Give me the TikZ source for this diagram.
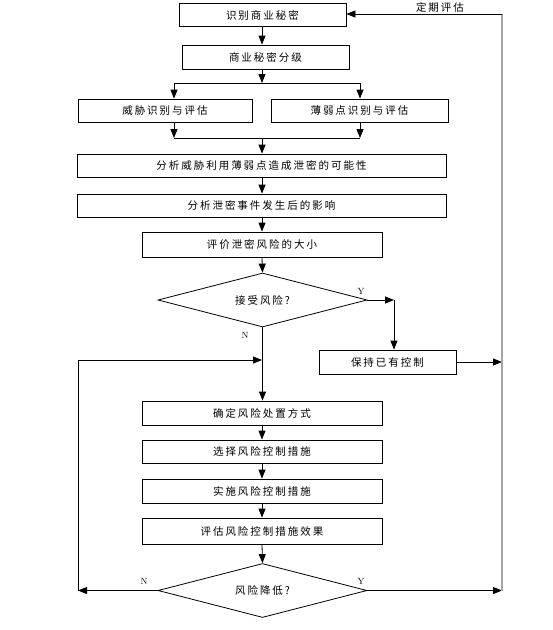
\documentclass[tikz,border=0pt]{standalone}
\usepackage{fontspec}
\newfontfamily\cjkfont[LetterSpace=19]{Noto Sans CJK SC}
\usetikzlibrary{arrows.meta,shapes.geometric}
\definecolor{rline}{RGB}{165,165,165}
\tikzset{
  box/.style={draw, line width=0.8pt, inner sep=0pt, font=\cjkfont\fontsize{10.5}{12}\selectfont},
  dia/.style={draw, line width=0.8pt, shape=diamond, aspect=3.87, inner sep=0pt, minimum width=209pt, minimum height=54pt, font=\cjkfont\fontsize{10.5}{12}\selectfont},
  arr/.style={-{Triangle[length=9pt,width=7pt]}, line width=0.8pt},
  ln/.style={line width=0.8pt},
  yn/.style={inner sep=0pt, font=\fontsize{9}{10}\selectfont},
  lbl/.style={inner sep=0pt, font=\cjkfont\fontsize{10.5}{12}\selectfont}
}
\begin{document}
\begin{tikzpicture}[x=1pt,y=-1pt]
\useasboundingbox (0,0) rectangle (553,630);
% boxes
\node[box, minimum width=167pt, minimum height=23pt] (b1) at (262.5,15) {识别商业秘密};
\node[box, minimum width=167pt, minimum height=24pt] (b2) at (265.5,57) {商业秘密分级};
\node[box, minimum width=174pt, minimum height=23pt] (b3) at (165,110.5) {威胁识别与评估};
\node[box, minimum width=177pt, minimum height=23pt] (b4) at (359.5,110.5) {薄弱点识别与评估};
\node[box, minimum width=369pt, minimum height=23pt] (b5) at (261.5,165.5) {分析威胁利用薄弱点造成泄密的可能性};
\node[box, minimum width=369pt, minimum height=23pt] (b6) at (261.5,205.5) {分析泄密事件发生后的影响};
\node[box, minimum width=240pt, minimum height=25pt] (b7) at (262,244.5) {评价泄密风险的大小};
\node[dia] (d1) at (262.5,300) {接受风险?};
\node[box, minimum width=137pt, minimum height=24pt] (b8) at (387.5,362) {保持已有控制};
\node[box, minimum width=240pt, minimum height=24pt] (b9) at (262,413) {确定风险处置方式};
\node[box, minimum width=240pt, minimum height=23pt] (b10) at (262,451.5) {选择风险控制措施};
\node[box, minimum width=240pt, minimum height=24pt] (b11) at (262,491) {实施风险控制措施};
\node[box, minimum width=240pt, minimum height=26pt] (b12) at (262,531) {评估风险控制措施效果};
\node[dia] (d2) at (262.5,590.5) {风险降低?};
% helper coordinates
\coordinate (sc) at (262,83);
\coordinate (sl) at (174,83);
\coordinate (sr) at (360,83);
\coordinate (ml) at (174,138);
\coordinate (mr) at (360,138);
\coordinate (mc) at (262,138);
\coordinate (c1) at (394,300);
\coordinate (jn) at (262,360);
\coordinate (lt) at (78,360);
\coordinate (lb) at (78,590.5);
\coordinate (rb) at (502,590.5);
\coordinate (rt) at (502,14);
% connectors
\draw[arr] (b1.south -| sc) -- (b2.north -| sc);
\draw[arr] (b2.south -| sc) -- (sc);
\draw[ln] (sl) -- (sr);
\draw[arr] (sl) -- (sl |- b3.north);
\draw[arr] (sr) -- (sr |- b4.north);
\draw[arr] (sl |- b3.south) -- (ml);
\draw[arr] (sr |- b4.south) -- (mr);
\draw[ln] (ml) -- (mr);
\draw[arr] (mc) -- (mc |- b5.north);
\draw[arr] (b5.south -| sc) -- (b6.north -| sc);
\draw[arr] (b6.south -| sc) -- (b7.north -| sc);
\draw[arr] (b7.south -| sc) -- (d1.north);
\draw[arr] (d1.east) -- (c1);
\draw[arr] (c1) -- (c1 |- b8.north);
\draw[arr] (d1.south) -- (b9.north -| d1.south);
\draw[arr] (b8.east) -- (b8.east -| rt);
\draw[arr] (b9.south -| sc) -- (b10.north -| sc);
\draw[arr] (b10.south -| sc) -- (b11.north -| sc);
\draw[arr] (b11.south -| sc) -- (b12.north -| sc);
\draw[arr] (b12.south -| sc) -- (d2.north);
\draw[arr] (d2.west) -- (lb);
\draw[ln] (lb) -- (lt);
\draw[arr] (lt) -- (jn);
\draw[arr] (d2.east) -- (rb);
\draw[line width=1.2pt, rline] (rb) -- (rt);
\draw[arr] (rt) -- (b1.east |- rt);
% labels
\node[yn] (y1) at (361,291) {Y};
\node[yn] (n1) at (245,335) {N};
\node[yn] (n2) at (144,581) {N};
\node[yn] (y2) at (361,581) {Y};
\node[lbl] (pe) at (440,7) {定期评估};
\end{tikzpicture}
\end{document}
